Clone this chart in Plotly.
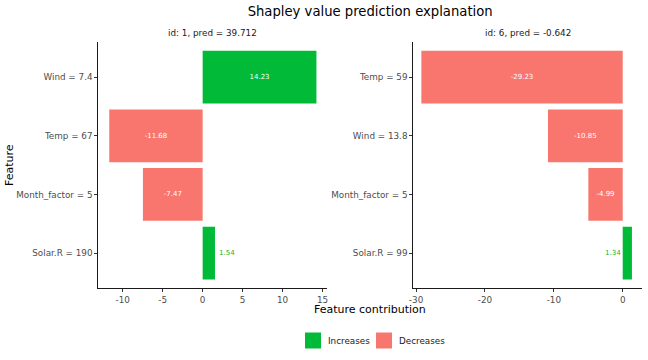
import plotly.graph_objects as go

# ---- data ----
left_title = "id: 1, pred = 39.712"
left_features = ["Wind = 7.4", "Temp = 67", "Month_factor = 5", "Solar.R = 190"]
left_values = [14.23, -11.68, -7.47, 1.54]

right_title = "id: 6, pred = -0.642"
right_features = ["Temp = 59", "Wind = 13.8", "Month_factor = 5", "Solar.R = 99"]
right_values = [-29.23, -10.85, -4.99, 1.34]

left_ticks = [-10, -5, 0, 5, 10, 15]
right_ticks = [-30, -20, -10, 0]

legend_labels = ["Increases", "Decreases"]

GREEN = "#00BA38"
RED = "#F8766D"
W, H = 648, 360
FONT = "DejaVu Sans"

def px_x(p):
    return p / W

def px_y(p):
    return 1 - p / H

panels = [
    dict(title=left_title, feats=left_features, vals=left_values, ticks=left_ticks,
         xa="x", ya="y", dom=(98.3, 327.0), rng=[-13.05, 15.55]),
    dict(title=right_title, feats=right_features, vals=right_values, ticks=right_ticks,
         xa="x2", ya="y2", dom=(413.3, 642.0), rng=[-30.4, 2.8]),
]

fig = go.Figure()
annotations = []
shapes = []

for i, p in enumerate(panels):
    for label, cond, color in [(legend_labels[0], lambda v: v >= 0, GREEN),
                               (legend_labels[1], lambda v: v < 0, RED)]:
        ys = [f for f, v in zip(p["feats"], p["vals"]) if cond(v)]
        xs = [v for v in p["vals"] if cond(v)]
        span = p["rng"][1] - p["rng"][0]
        pxw = (p["dom"][1] - p["dom"][0]) / span
        texts = [f"{v:.2f}" if abs(v) * pxw > 30 else "" for v in xs]
        fig.add_trace(go.Bar(
            x=xs, y=ys, orientation="h", name=label,
            marker=dict(color=color, line=dict(width=0)),
            width=0.9, text=texts, textposition="inside",
            insidetextanchor="middle",
            textfont=dict(color="white", size=7, family=FONT),
            xaxis=p["xa"], yaxis=p["ya"],
            showlegend=False,
            hoverinfo="skip",
        ))
        # small bars: label outside
        for f, v in zip(ys, xs):
            if abs(v) * pxw <= 30:
                right_room = (p["rng"][1] - v) * pxw
                if right_room > 25:
                    ax, anchor, shift = v, "left", 2
                else:
                    ax, anchor, shift = 0, "right", 0
                annotations.append(dict(
                    x=ax, y=f, xref=p["xa"], yref=p["ya"], text=f"{v:.2f}",
                    showarrow=False, xanchor=anchor, xshift=shift,
                    font=dict(color=color, size=7, family=FONT)))

    axis_common = dict(
        showline=True, linecolor="#1a1a1a", linewidth=1,
        ticks="outside", ticklen=3, tickcolor="#333333", tickwidth=1,
        tickfont=dict(size=8.8, color="#4D4D4D", family=FONT),
        showgrid=False, zeroline=False, automargin=False,
    )
    xkey = "xaxis" if i == 0 else "xaxis2"
    ykey = "yaxis" if i == 0 else "yaxis2"
    fig.update_layout(**{
        xkey: dict(domain=[px_x(p["dom"][0]), px_x(p["dom"][1])],
                   range=p["rng"], tickvals=p["ticks"],
                   ticktext=[str(t) for t in p["ticks"]],
                   anchor=p["ya"], **axis_common),
        ykey: dict(domain=[px_y(288.3), px_y(42.0)],
                   type="category", categoryorder="array",
                   categoryarray=list(reversed(p["feats"])),
                   range=[-0.6, 3.6], anchor=p["xa"], **axis_common),
    })
    annotations.append(dict(
        x=px_x((p["dom"][0] + p["dom"][1]) / 2), y=px_y(32.5), xref="paper", yref="paper",
        text=p["title"], showarrow=False, xanchor="center", yanchor="middle",
        font=dict(size=8.8, color="#1a1a1a", family=FONT)))

center_x = px_x((98.3 + 642.0) / 2)
annotations.append(dict(
    x=center_x, y=px_y(309.5), xref="paper", yref="paper", text="Feature contribution",
    showarrow=False, xanchor="center", yanchor="middle",
    font=dict(size=11, color="black", family=FONT)))
annotations.append(dict(
    x=px_x(10), y=px_y(165), xref="paper", yref="paper", text="Feature",
    showarrow=False, xanchor="center", yanchor="middle", textangle=-90,
    font=dict(size=11, color="black", family=FONT)))

# manual legend (ggplot-style keys)
legend_items = [(legend_labels[0], GREEN, 305), (legend_labels[1], RED, 376)]
for lab, col, x0 in legend_items:
    shapes.append(dict(type="rect", xref="paper", yref="paper",
                       x0=px_x(x0), x1=px_x(x0 + 16), y0=px_y(348.5), y1=px_y(332.5),
                       fillcolor=col, line=dict(width=0)))
    annotations.append(dict(
        x=px_x(x0 + 21), y=px_y(340.5), xref="paper", yref="paper", text=lab,
        showarrow=False, xanchor="left", yanchor="middle",
        font=dict(size=8.8, color="#1a1a1a", family=FONT)))

fig.update_layout(
    width=W, height=H,
    margin=dict(l=0, r=0, t=0, b=0),
    paper_bgcolor="white", plot_bgcolor="white",
    bargap=0.1,
    title=dict(text="Shapley value prediction explanation", x=center_x, xanchor="center",
               y=px_y(11), yanchor="middle", xref="paper", yref="paper",
               font=dict(size=13.2, color="black", family=FONT)),
    annotations=annotations,
    shapes=shapes,
    showlegend=False,
    font=dict(family=FONT),
    uniformtext=dict(minsize=7, mode="show"),
)

fig.write_html(
    "out.html",
    config={"displayModeBar": False, "staticPlot": True},
    post_script="document.body.style.margin='0';document.body.style.overflow='hidden';",
)
